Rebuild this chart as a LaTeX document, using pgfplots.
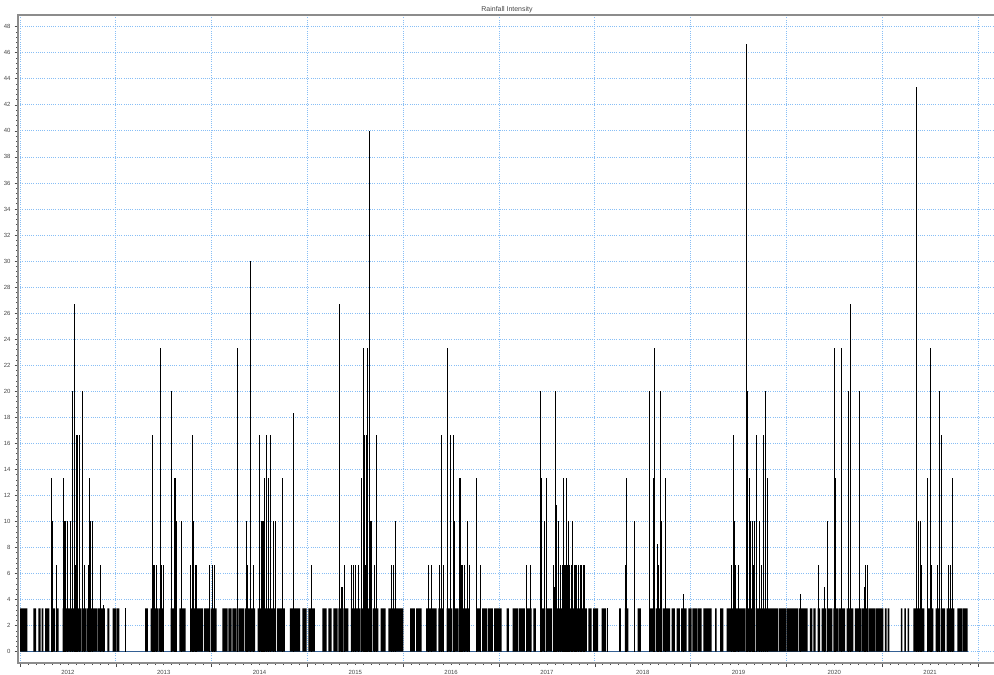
\documentclass[border=0pt]{standalone}
\usepackage{pgfplots}
\pgfplotsset{compat=1.18}
\usepackage{fontspec}
\setmainfont{Liberation Sans}
\definecolor{gridblue}{RGB}{135,190,245}
\definecolor{baseblue}{RGB}{60,110,170}
\definecolor{axisgray}{RGB}{140,140,140}
\definecolor{labelgray}{RGB}{70,70,70}
\begin{document}
\begin{tikzpicture}
\begin{axis}[
 at={(0,0)}, anchor=south west,
 scale only axis, width=978bp, height=648bp,
 xmin=2011.979, xmax=2022.188, ymin=-0.87, ymax=48.9,
 axis line style={draw=axisgray, line width=1.2bp},
 xtick={2012,2013,2014,2015,2016,2017,2018,2019,2020,2021,2022}, xticklabels={},
 extra x ticks={2012.5,2013.5,2014.5,2015.5,2016.5,2017.5,2018.5,2019.5,2020.5,2021.5},
 extra x tick labels={2012,2013,2014,2015,2016,2017,2018,2019,2020,2021},
 extra x tick style={major tick length=0pt, grid=none},
 minor x tick num=11,
 ytick={0,2,...,48}, minor y tick num=4,
 tick align=outside, tick pos=left,
 major tick length=3.5bp, minor tick length=2bp,
 tick style={draw=black!70, line width=0.6bp},
 grid=major, major grid style={draw=gridblue, dash pattern=on 1bp off 1.2bp, line width=0.8bp},
 ticklabel style={font=\fontsize{6}{7}\selectfont, text=labelgray},
 /pgf/number format/assume math mode=true,
 yticklabel style={xshift=-0.5bp},
 xticklabel style={yshift=-3.5bp},
 title={Rainfall Intensity},
 title style={font=\fontsize{7}{8}\selectfont, text=labelgray, inner sep=0pt, at={(0.5,1)}, anchor=south, yshift=-4.5bp},
]
% baseline
\addplot[baseblue, line width=0.8bp] coordinates {(2012,0)(2021.892,0)};
% blocks of 3.33 intensity
\addplot[const plot, fill=black, draw=none] coordinates {
(2012.000,3.333)(2012.076,0)(2012.139,3.333)(2012.167,0)(2012.191,3.333)(2012.214,0)
(2012.225,3.333)(2012.243,0)(2012.261,3.333)(2012.306,0)(2012.324,3.333)(2012.365,0)
(2012.374,3.333)(2012.404,0)(2012.446,3.333)(2012.470,0)(2012.477,3.333)(2012.522,0)
(2012.529,3.333)(2012.585,0)(2012.592,3.333)(2012.637,0)(2012.644,3.333)(2012.689,0)
(2012.696,3.333)(2012.804,0)(2012.811,3.333)(2012.887,0)(2012.911,3.333)(2012.932,0)
(2012.968,3.333)(2013.002,0)(2013.009,3.333)(2013.036,0)
(2013.305,3.333)(2013.336,0)(2013.364,3.333)(2013.399,0)(2013.406,3.333)(2013.441,0)
(2013.448,3.333)(2013.503,0)(2013.573,3.333)(2013.636,0)(2013.663,3.333)(2013.730,0)
(2013.775,3.333)(2013.837,0)(2013.844,3.333)(2013.910,0)(2013.918,3.333)(2013.983,0)
(2013.991,3.333)(2014.053,0)
(2014.112,3.333)(2014.168,0)(2014.174,3.333)(2014.208,0)(2014.216,3.333)(2014.262,0)
(2014.279,3.333)(2014.341,0)(2014.349,3.333)(2014.401,0)(2014.408,3.333)(2014.453,0)
(2014.481,3.333)(2014.526,0)(2014.533,3.333)(2014.589,0)(2014.596,3.333)(2014.672,0)
(2014.680,3.333)(2014.766,0)(2014.818,3.333)(2014.923,0)(2014.947,3.333)(2014.993,0)
(2015.009,3.333)(2015.079,0)(2015.156,3.333)(2015.201,0)(2015.218,3.333)(2015.254,0)
(2015.270,3.333)(2015.316,0)(2015.323,3.333)(2015.372,0)(2015.379,3.333)(2015.427,0)
(2015.455,3.333)(2015.497,0)(2015.504,3.333)(2015.549,0)(2015.556,3.333)(2015.612,0)
(2015.619,3.333)(2015.674,0)(2015.682,3.333)(2015.740,0)(2015.765,3.333)(2015.817,0)
(2015.844,3.333)(2015.914,0)(2015.922,3.333)(2016.001,0)
(2016.071,3.333)(2016.123,0)(2016.134,3.333)(2016.193,0)(2016.238,3.333)(2016.290,0)
(2016.297,3.333)(2016.350,0)(2016.366,3.333)(2016.419,0)(2016.454,3.333)(2016.509,0)
(2016.517,3.333)(2016.572,0)(2016.579,3.333)(2016.635,0)(2016.642,3.333)(2016.697,0)
(2016.767,3.333)(2016.812,0)(2016.823,3.333)(2016.875,0)(2016.885,3.333)(2016.937,0)
(2016.948,3.333)(2017.028,0)
(2017.080,3.333)(2017.104,0)(2017.143,3.333)(2017.198,0)(2017.206,3.333)(2017.271,0)
(2017.289,3.333)(2017.341,0)(2017.358,3.333)(2017.386,0)(2017.428,3.333)(2017.480,0)
(2017.487,3.333)(2017.553,0)(2017.561,3.333)(2017.637,0)(2017.644,3.333)(2017.720,0)
(2017.728,3.333)(2017.804,0)(2017.811,3.333)(2017.916,0)(2017.932,3.333)(2017.968,0)
(2017.982,3.333)(2018.034,0)
(2018.072,3.333)(2018.117,0)(2018.253,3.333)(2018.273,0)(2018.315,3.333)(2018.350,0)
(2018.448,3.333)(2018.482,0)(2018.576,3.333)(2018.628,0)(2018.636,3.333)(2018.701,0)
(2018.709,3.333)(2018.785,0)(2018.803,3.333)(2018.837,0)(2018.855,3.333)(2018.889,0)
(2018.900,3.333)(2018.959,0)(2018.976,3.333)(2019.011,0)
(2019.018,3.333)(2019.067,0)(2019.074,3.333)(2019.116,0)(2019.133,3.333)(2019.220,0)
(2019.255,3.333)(2019.272,0)(2019.307,3.333)(2019.341,0)(2019.377,3.333)(2019.463,0)
(2019.471,3.333)(2019.568,0)(2019.575,3.333)(2019.672,0)(2019.680,3.333)(2019.777,0)
(2019.784,3.333)(2019.912,0)(2019.920,3.333)(2019.996,0)
(2020.003,3.333)(2020.121,0)(2020.128,3.333)(2020.222,0)(2020.246,3.333)(2020.270,0)
(2020.281,3.333)(2020.306,0)(2020.327,3.333)(2020.351,0)(2020.368,3.333)(2020.413,0)
(2020.421,3.333)(2020.479,0)(2020.490,3.333)(2020.539,0)(2020.546,3.333)(2020.612,0)
(2020.629,3.333)(2020.698,0)(2020.716,3.333)(2020.779,0)(2020.786,3.333)(2020.852,0)
(2020.859,3.333)(2020.925,0)(2020.932,3.333)(2021.012,0)
(2021.029,3.333)(2021.047,0)(2021.057,3.333)(2021.074,0)(2021.196,3.333)(2021.210,0)
(2021.231,3.333)(2021.248,0)(2021.266,3.333)(2021.280,0)(2021.325,3.333)(2021.374,0)
(2021.381,3.333)(2021.439,0)(2021.475,3.333)(2021.533,0)(2021.558,3.333)(2021.603,0)
(2021.611,3.333)(2021.656,0)(2021.673,3.333)(2021.753,0)(2021.784,3.333)(2021.833,0)
(2021.840,3.333)(2021.892,0)
} \closedcycle;
% individual spikes
\addplot[ycomb, black, line width=1bp, mark=none] coordinates {
(2012.324,13.333)(2012.334,10)(2012.386,6.667)(2012.452,13.333)(2012.465,10)(2012.480,10)
(2012.496,10)(2012.532,10)(2012.543,10)(2012.550,20)(2012.564,26.667)(2012.574,6.667)
(2012.592,16.667)(2012.605,16.667)(2012.619,16.667)(2012.626,6.667)(2012.654,20)(2012.668,6.667)
(2012.713,6.667)(2012.723,13.333)(2012.738,10)(2012.759,10)(2012.835,6.667)(2012.869,3.6)
(2013.096,3.333)
(2013.381,16.667)(2013.391,6.667)(2013.409,6.667)(2013.427,6.667)(2013.467,23.333)(2013.482,6.667)
(2013.496,6.667)(2013.584,20)(2013.608,13.333)(2013.623,13.333)(2013.636,10)(2013.688,10)
(2013.782,6.667)(2013.803,16.667)(2013.809,10)(2013.827,6.667)(2013.844,6.667)(2013.983,6.667)
(2014.011,6.667)(2014.035,6.667)(2014.272,23.333)(2014.366,10)(2014.377,6.667)(2014.401,30)
(2014.408,5)(2014.435,6.667)(2014.498,16.667)(2014.505,13.333)(2014.516,10)(2014.529,10)
(2014.540,10)(2014.547,13.333)(2014.575,16.667)(2014.592,13.333)(2014.599,10)(2014.610,16.667)
(2014.644,10)(2014.662,6.667)(2014.669,10)(2014.738,13.333)(2014.853,18.333)
(2015.038,6.667)(2015.340,26.667)(2015.351,5)(2015.364,5)(2015.385,6.667)(2015.462,6.667)
(2015.479,6.667)(2015.497,6.667)(2015.531,6.667)(2015.567,13.333)(2015.584,23.333)(2015.600,16.667)
(2015.605,6.667)(2015.619,16.667)(2015.629,23.333)(2015.648,40)(2015.657,10)(2015.671,10)
(2015.698,6.667)(2015.716,16.667)(2015.873,6.667)(2015.897,6.667)(2015.922,10)
(2016.262,6.667)(2016.297,6.667)(2016.384,6.667)(2016.402,16.667)(2016.419,6.667)(2016.460,23.333)
(2016.489,16.667)(2016.523,16.667)(2016.533,10)(2016.586,13.333)(2016.600,13.333)(2016.609,6.667)
(2016.621,6.667)(2016.645,6.667)(2016.669,10)(2016.690,6.667)(2016.760,13.333)(2016.767,10)
(2016.802,6.667)
(2017.289,6.667)(2017.331,6.667)(2017.435,20)(2017.446,13.333)(2017.480,10)(2017.498,13.333)
(2017.567,6.667)(2017.577,5)(2017.588,20)(2017.595,11.3)(2017.605,6.667)(2017.619,10)
(2017.626,6.667)(2017.637,6.667)(2017.647,6.667)(2017.658,6.667)(2017.672,13.333)(2017.685,6.667)
(2017.689,6.667)(2017.707,13.333)(2017.715,6.667)(2017.723,10)(2017.741,6.667)(2017.752,6.667)
(2017.769,10)(2017.783,6.667)(2017.794,6.667)(2017.804,6.667)(2017.825,6.667)(2017.846,6.667)
(2017.863,6.667)(2017.877,6.667)(2017.893,6.667)
(2018.135,3.333)(2018.323,6.667)(2018.333,13.333)(2018.412,10)(2018.576,20)(2018.611,13.333)
(2018.621,10)(2018.628,23.333)(2018.657,8.3)(2018.663,6.667)(2018.688,20)(2018.698,10)
(2018.733,13.333)(2018.931,4.4)
(2019.429,6.667)(2019.446,16.667)(2019.456,10)(2019.471,6.667)(2019.505,6.667)(2019.584,46.667)
(2019.596,20)(2019.610,13.333)(2019.630,10)(2019.644,10)(2019.657,6.667)(2019.672,10)
(2019.690,16.667)(2019.714,10)(2019.735,6.667)(2019.759,16.667)(2019.777,16.667)(2019.784,20)
(2019.801,13.333)
(2020.142,4.4)(2020.333,6.667)(2020.396,5)(2020.427,10)(2020.500,23.333)(2020.507,6.667)
(2020.515,13.333)(2020.570,23.333)(2020.646,20)(2020.653,5)(2020.664,26.667)(2020.758,20)
(2020.768,16.667)(2020.813,5)(2020.828,6.667)(2020.849,6.667)
(2021.360,43.333)(2021.384,10)(2021.398,10)(2021.405,6.667)(2021.475,13.333)(2021.509,23.333)
(2021.515,6.667)(2021.579,6.667)(2021.593,13.333)(2021.603,20)(2021.621,16.667)(2021.697,6.667)
(2021.718,6.667)(2021.732,13.333)
};
\end{axis}
\pgfresetboundingbox
\path[use as bounding box] (-18bp,-12bp) rectangle (976bp,663bp);
\end{tikzpicture}
\end{document}
